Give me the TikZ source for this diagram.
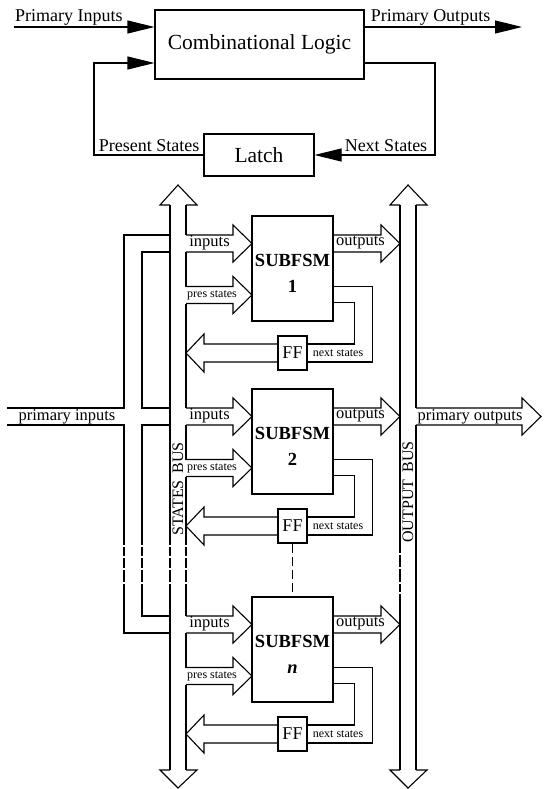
\documentclass[tikz,border=0pt]{standalone}
\usepackage{fontspec}
\setmainfont{Liberation Serif}
\usepackage{tikz}
\usetikzlibrary{arrows.meta,positioning}

% right-pointing open bus arrow: tail x, tip x, middle y
\newcommand{\fatright}[3]{%
  \draw[busline] ({#1},{#3-8.5}) -- ({#2-19},{#3-8.5}) -- ({#2-19},{#3-18.5})
    -- ({#2},{#3}) -- ({#2-19},{#3+18.5}) -- ({#2-19},{#3+8.5}) -- ({#1},{#3+8.5});}
% left-pointing open bus arrow: tip x, tail x, middle y
\newcommand{\fatleft}[3]{%
  \draw[busline] ({#2},{#3-9}) -- ({#1+18},{#3-9}) -- ({#1+18},{#3-19})
    -- ({#1},{#3}) -- ({#1+18},{#3+19}) -- ({#1+18},{#3+9}) -- ({#2},{#3+9});}

\tikzset{
  blk/.style={draw, line width=1.1pt, font=\fontsize{21.5}{24}\selectfont},
  sig/.style={line width=1.1pt, -{Triangle[length=27pt,width=13pt]}},
  lbl/.style={font=\fontsize{18}{20}\selectfont, inner sep=1pt},
  busline/.style={line width=1.1pt},
  subbox/.style={draw, line width=1.1pt, minimum width=81pt, minimum height=105pt},
  subtxt/.style={font=\fontsize{18.5}{26}\selectfont\bfseries, align=center},
  ffbox/.style={draw, line width=1.1pt, minimum width=29pt, minimum height=34pt,
    inner sep=0pt, font=\fontsize{18}{20}\selectfont},
  midtxt/.style={font=\fontsize{16.5}{18}\selectfont, inner sep=0pt},
  smalltxt/.style={font=\fontsize{12}{14}\selectfont, inner sep=0pt},
  bustxt/.style={font=\fontsize{16}{18}\selectfont, inner sep=0pt, rotate=90}
}

\begin{document}
\begin{tikzpicture}[x=1pt,y=-1pt]
    \useasboundingbox (0,0) rectangle (543,789);

    % sequential machine
    \node[blk, minimum width=209pt, minimum height=69pt] (comb) at (259.5,44.5)
        {Combinational Logic};
    \node[blk, minimum width=110pt, minimum height=42pt] (latch) at (259,155) {Latch};
    \coordinate (pin) at (14,27);
    \coordinate (pout) at (522,27);
    \coordinate (fbl) at (94,63);
    \coordinate (fbr) at (435,63);
    \draw[sig] (pin) -- (pin -| comb.west);
    \draw[sig] (pout -| comb.east) -- (pout);
    \draw[sig] (latch.west) -| (fbl) -- (fbl -| comb.west);
    \draw[sig] (fbr -| comb.east) -- (fbr) |- (latch.east);
    \node[lbl, anchor=south west] (pinlbl) at (pin) {Primary Inputs};
    \node[lbl, anchor=south west] (poutlbl) at ([xshift=5pt]comb.east |- pout)
        {Primary Outputs};
    \node[lbl, anchor=base east] (preslbl) at ([xshift=-3pt,yshift=4pt]latch.west)
        {Present States};
    \node[lbl, anchor=base west] (nextlbl) at ([xshift=29pt,yshift=4pt]latch.east)
        {Next States};

    % states bus
    \draw[busline] (170,205) -- (160,205) -- (178,185) -- (197,205) -- (186,205);
    \draw[busline] (170,770) -- (160,770) -- (178,788) -- (197,770) -- (186,770);
    \draw[busline] (170,205) -- (170,770);
    \draw[busline] (186,205) -- (186,235) (186,252) -- (186,286.5)
        (186,303.5) -- (186,408) (186,425) -- (186,459.5)
        (186,476.5) -- (186,616) (186,633) -- (186,667.5)
        (186,684.5) -- (186,770);
    \node[bustxt] (sbus) at (178,489) {STATES\hspace{7pt}BUS};

    % output bus
    \draw[busline] (400,205) -- (390,205) -- (408,185) -- (427,205) -- (416,205);
    \draw[busline] (400,770) -- (390,770) -- (408,788) -- (427,770) -- (416,770);
    \draw[busline] (400,205) -- (400,770);
    \draw[busline] (416,205) -- (416,408) (416,425) -- (416,770);
    \node[bustxt] (obus) at (408,492) {OUTPUT\hspace{7pt}BUS};

    % primary inputs
    \draw[busline] (7,408) -- (124,408) -- (124,235) -- (170,235);
    \draw[busline] (170,252) -- (142,252) -- (142,408) -- (170,408);
    \draw[busline] (7,425) -- (124,425) -- (124,633) -- (170,633);
    \draw[busline] (170,616) -- (142,616) -- (142,425) -- (170,425);
    \node[midtxt] (pinbus) at (67,416.5) {primary inputs};

    % primary outputs
    \fatright{416}{541}{416.5}
    \node[midtxt] (poutbus) at (470,416.5) {primary outputs};

    % sub machines
    \foreach \t/\k/\lab in {216/1/1, 389/2/2, 597/n/{\itshape n}} {
        \node[subbox] (sub\k) at (292.5,{\t+52.5}) {};
        \node[subtxt] (subt\k) at ([yshift=-5pt]sub\k.center) {SUBFSM\\\lab};
        \node[ffbox] (ff\k) at (292.5,{\t+137}) {FF};
        \fatright{186}{252}{\t+27.5}
        \fatright{186}{252}{\t+79}
        \fatright{333}{400}{\t+27.5}
        \fatleft{186}{278}{\t+137}
        \node[midtxt] (in\k) at (209.5,{\t+27}) {inputs};
        \node[smalltxt] (ps\k) at (212,{\t+79}) {pres states};
        \node[midtxt] (out\k) at (360.5,{\t+27}) {outputs};
        \draw[busline] ([yshift=-71pt]sub\k.north east) -- ++(39,0)
            |- ([yshift=-9pt]ff\k.east);
        \draw[busline] ([yshift=-87pt]sub\k.north east) -- ++(21,0)
            |- ([yshift=9pt]ff\k.east);
        \node[smalltxt] (ns\k) at (338,{\t+137}) {next states};
    }
    \draw[busline, dash pattern=on 9pt off 4pt] (ff2.south) -- (subn.north);

    % breaks in the buses
    \foreach \gy in {545,556,568,582}
        \fill[white] (118,\gy) rectangle (192,\gy+1.5);
    \foreach \gy in {553,567,582,592}
        \fill[white] (396,\gy) rectangle (404,\gy+1.5);
\end{tikzpicture}
\end{document}
